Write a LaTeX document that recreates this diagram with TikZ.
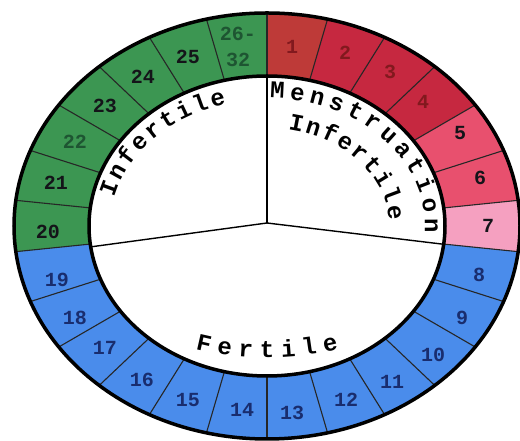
\documentclass[tikz,border=0pt]{standalone}
\usepackage{fontspec}
\newfontfamily\monofont{Liberation Mono}
\usetikzlibrary{decorations.text}
\definecolor{segA}{RGB}{190,58,56}
\definecolor{segB}{RGB}{198,40,64}
\definecolor{segC}{RGB}{232,80,110}
\definecolor{segD}{RGB}{245,160,192}
\definecolor{segBlue}{RGB}{74,140,235}
\definecolor{segGreen}{RGB}{60,150,82}
\definecolor{txtRed}{RGB}{130,25,30}
\definecolor{txtBlue}{RGB}{25,45,110}
\definecolor{txtGreen}{RGB}{30,85,50}
\definecolor{txtDark}{RGB}{20,20,25}
\newcommand{\curvefnt}{\monofont\bfseries\fontsize{24}{24}\selectfont}
\begin{document}
\begin{tikzpicture}[x=1pt,y=1pt,
  numlab/.style={font=\monofont\bfseries\fontsize{20}{26}\selectfont, inner sep=0pt, align=center},
  ring/.style={line width=3.5pt, draw=black},
  divider/.style={line width=1.1pt, draw=black!85},
  spoke/.style={line width=1.4pt, draw=black}]
\fill[white] (0,0) rectangle (520,441);
\useasboundingbox (0,0) rectangle (520,441);
\begin{scope}[shift={(267,215)}]
  \foreach \k/\col in {0/segA,1/segB,2/segB,3/segB,4/segC,5/segC,6/segD,
      7/segBlue,8/segBlue,9/segBlue,10/segBlue,11/segBlue,12/segBlue,13/segBlue,
      14/segBlue,15/segBlue,16/segBlue,17/segBlue,18/segBlue,
      19/segGreen,20/segGreen,21/segGreen,22/segGreen,23/segGreen,24/segGreen,25/segGreen} {
    \pgfmathsetmacro\a{90-\k*360/26}
    \pgfmathsetmacro\b{90-(\k+1)*360/26}
    \fill[\col] (\a:253pt and 213pt) arc[start angle=\a, end angle=\b, x radius=253pt, y radius=213pt]
      -- (\b:178pt and 150pt) arc[start angle=\b, end angle=\a, x radius=178pt, y radius=150pt] -- cycle;
  }
  \foreach \k in {0,...,25} {
    \pgfmathsetmacro\a{90-\k*360/26}
    \draw[divider] (\a:253pt and 213pt) -- (\a:178pt and 150pt);
  }
  \draw[ring] (0,0) ellipse [x radius=253pt, y radius=213pt];
  \draw[ring] (0,0) ellipse [x radius=178pt, y radius=150pt];
  \coordinate (hub) at (0,3);
  \coordinate (sTop) at (90:178pt and 150pt);
  \coordinate (sLeft) at (188:178pt and 150pt);
  \coordinate (sRight) at (-7:178pt and 150pt);
  \draw[spoke] (hub) -- (sTop);
  \draw[spoke] (hub) -- (sLeft);
  \draw[spoke] (hub) -- (sRight);
  \path[decorate, decoration={text along path, text align={fit to path}, text={|\curvefnt|Menstruation}}]
    (89:158pt and 128pt) arc[start angle=89, end angle=-3, x radius=158pt, y radius=128pt];
  \path[decorate, decoration={text along path, text align={fit to path}, text={|\curvefnt|Infertile}}]
    (80:122pt and 98pt) arc[start angle=80, end angle=3, x radius=122pt, y radius=98pt];
  \path[decorate, decoration={text along path, text align={fit to path}, text={|\curvefnt|Infertile}}]
    (167:157pt and 126pt) arc[start angle=167, end angle=105, x radius=157pt, y radius=126pt];
  \path[decorate, decoration={text along path, text align={fit to path}, text={|\curvefnt|Fertile}}]
    (249:200pt and 132pt) arc[start angle=249, end angle=291, x radius=200pt, y radius=132pt];
\end{scope}
\node[numlab, txtRed] (n1) at (292,394) {1};
\node[numlab, txtRed] (n2) at (345,388) {2};
\node[numlab, txtRed] (n3) at (390,369) {3};
\node[numlab, txtRed] (n4) at (423,339) {4};
\node[numlab, txtDark] (n5) at (460,308) {5};
\node[numlab, txtDark] (n6) at (480,263) {6};
\node[numlab, txtDark] (n7) at (488,215) {7};
\node[numlab, txtBlue] (n8) at (479,166) {8};
\node[numlab, txtBlue] (n9) at (462,123) {9};
\node[numlab, txtBlue] (n10) at (433,86) {10};
\node[numlab, txtBlue] (n11) at (392,59) {11};
\node[numlab, txtBlue] (n12) at (346,41) {12};
\node[numlab, txtBlue] (n13) at (292,28) {13};
\node[numlab, txtBlue] (n14) at (242,31) {14};
\node[numlab, txtBlue] (n15) at (188,41) {15};
\node[numlab, txtBlue] (n16) at (142,61) {16};
\node[numlab, txtBlue] (n17) at (105,93) {17};
\node[numlab, txtBlue] (n18) at (75,123) {18};
\node[numlab, txtBlue] (n19) at (57,161) {19};
\node[numlab, txtDark] (n20) at (48,209) {20};
\node[numlab, txtDark] (n21) at (56,258) {21};
\node[numlab, txtGreen] (n22) at (75,299) {22};
\node[numlab, txtDark] (n23) at (105,335) {23};
\node[numlab, txtDark] (n24) at (143,364) {24};
\node[numlab, txtDark] (n25) at (188,384) {25};
\node[numlab, txtGreen] (n26) at (238,394) {26-\\32};
\end{tikzpicture}
\end{document}
